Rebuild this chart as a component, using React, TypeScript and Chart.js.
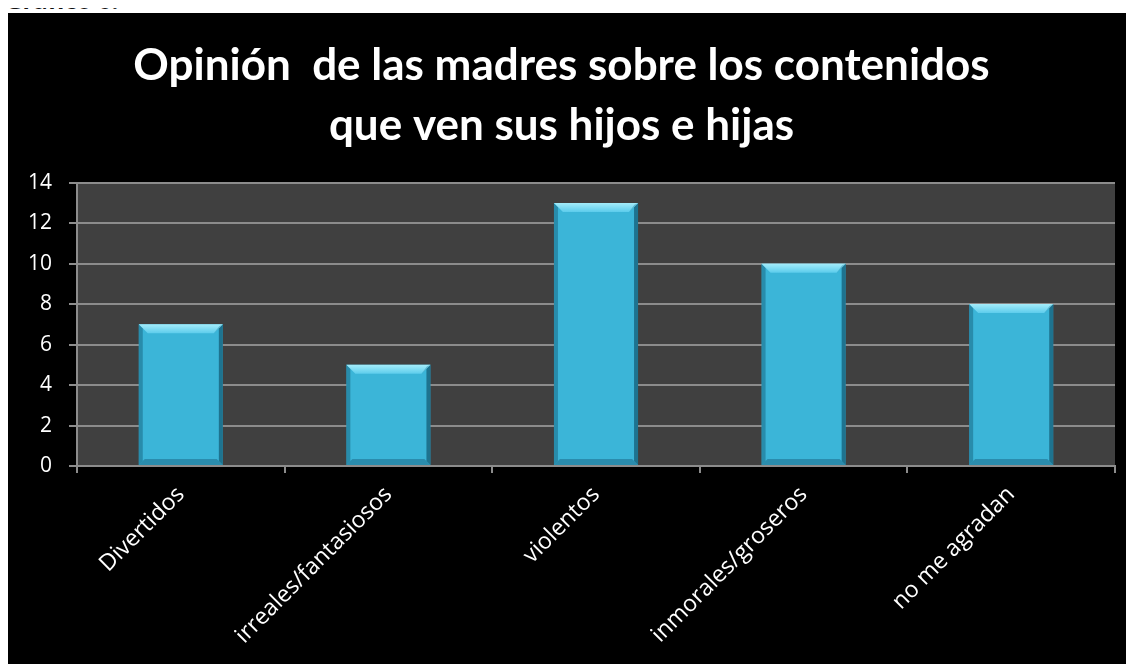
import React, { useEffect, useRef } from "react";
import { Chart, registerables } from "chart.js";

Chart.register(...registerables);

const categories = ["Divertidos", "irreales/fantasiosos", "violentos", "inmorales/groseros", "no me agradan"];
const values = [7, 5, 13, 10, 8];
const titleLines = ["Opinión  de las madres sobre los contenidos", "que ven sus hijos e hijas"];
const yMax = 14;
const yStep = 2;

const TITLE_FONT = "Lato, 'Open Sans', sans-serif";
const TICK_FONT = "'Open Sans', Lato, sans-serif";

const plotBg = {
  id: "plotBg",
  beforeDraw(chart: any) {
    const { ctx, chartArea } = chart;
    ctx.save();
    ctx.fillStyle = "#404040";
    ctx.fillRect(chartArea.left, chartArea.top, chartArea.right - chartArea.left, chartArea.bottom - chartArea.top);
    ctx.restore();
  },
};

const bevel = {
  id: "bevel",
  afterDatasetsDraw(chart: any) {
    const { ctx } = chart;
    const meta = chart.getDatasetMeta(0);
    ctx.save();
    meta.data.forEach((bar: any) => {
      const w = bar.width;
      const l = bar.x - w / 2;
      const r = bar.x + w / 2;
      const t = bar.y;
      const b = bar.base;
      const d = 9;
      ctx.fillStyle = "rgba(25,105,135,0.55)";
      ctx.beginPath();
      ctx.moveTo(l, t);
      ctx.lineTo(l + 4, t + 4);
      ctx.lineTo(l + 4, b - 4);
      ctx.lineTo(l, b);
      ctx.closePath();
      ctx.fill();
      ctx.fillStyle = "rgba(15,80,105,0.65)";
      ctx.beginPath();
      ctx.moveTo(r, t);
      ctx.lineTo(r, b);
      ctx.lineTo(r - 4, b - 4);
      ctx.lineTo(r - 4, t + 4);
      ctx.closePath();
      ctx.fill();
      ctx.fillStyle = "rgba(25,100,130,0.5)";
      ctx.beginPath();
      ctx.moveTo(l, b);
      ctx.lineTo(r, b);
      ctx.lineTo(r - 6, b - 6);
      ctx.lineTo(l + 6, b - 6);
      ctx.closePath();
      ctx.fill();
      const gTop = ctx.createLinearGradient(0, t, 0, t + d);
      gTop.addColorStop(0, "#a4ecfa");
      gTop.addColorStop(1, "#5cccec");
      ctx.fillStyle = gTop;
      ctx.beginPath();
      ctx.moveTo(l, t);
      ctx.lineTo(r, t);
      ctx.lineTo(r - d, t + d);
      ctx.lineTo(l + d, t + d);
      ctx.closePath();
      ctx.fill();
      ctx.fillStyle = "rgba(40,130,160,0.45)";
      ctx.beginPath();
      ctx.moveTo(r, t);
      ctx.lineTo(r - d, t + d);
      ctx.lineTo(r - d * 0.4, t + d * 0.2);
      ctx.closePath();
      ctx.fill();
    });
    ctx.restore();
  },
};

export default function App() {
  const ref = useRef<HTMLCanvasElement>(null);
  useEffect(() => {
    if (!ref.current) return;
    const chart = new Chart(ref.current, {
      type: "bar",
      data: {
        labels: categories,
        datasets: [
          {
            data: values,
            borderWidth: 0,
            backgroundColor: (c: any) => {
              const el = c.element;
              const ctx = c.chart.ctx;
              if (!el || el.width == null || isNaN(el.x)) return "#3bb5d8";
              const l = el.x - el.width / 2;
              const g = ctx.createLinearGradient(l, 0, l + el.width, 0);
              g.addColorStop(0, "#34a9cc");
              g.addColorStop(0.5, "#3cb9dc");
              g.addColorStop(1, "#309fc2");
              return g;
            },
            categoryPercentage: 1,
            barPercentage: 0.405,
          },
        ],
      },
      options: {
        responsive: false,
        animation: false,
        layout: { padding: { left: 0, right: 19, top: 0, bottom: 0 } },
        plugins: {
          legend: { display: false },
          tooltip: { enabled: false },
          title: {
            display: true,
            text: titleLines,
            color: "#ffffff",
            font: { family: TITLE_FONT, size: 44, weight: "bold", lineHeight: 1.36 },
            padding: { top: 23, bottom: 27 },
          },
        },
        scales: {
          x: {
            grid: {
              offset: true,
              drawOnChartArea: false,
              drawTicks: true,
              tickLength: 7,
              color: "#8c8c8c",
              lineWidth: 2,
            },
            border: { display: true, color: "#8c8c8c", width: 2 },
            ticks: {
              color: "#ffffff",
              font: { family: TICK_FONT, size: 23 },
              maxRotation: 45,
              minRotation: 45,
              autoSkip: false,
              padding: 8,
            },
            afterFit: (s: any) => {
              s.height = 198;
            },
          },
          y: {
            min: 0,
            max: yMax,
            ticks: {
              stepSize: yStep,
              color: "#ffffff",
              font: { family: TICK_FONT, size: 21 },
              padding: 17,
            },
            grid: {
              color: "#8c8c8c",
              lineWidth: 2,
              tickLength: 8,
            },
            border: { display: true, color: "#8c8c8c", width: 2 },
            afterFit: (s: any) => {
              s.width = 69;
            },
          },
        },
      },
      plugins: [plotBg, bevel],
    });
    return () => chart.destroy();
  }, []);

  return (
    <div style={{ position: "relative", width: 1126, height: 656, overflow: "visible" }}>
      <div
        style={{
          position: "absolute",
          left: -3,
          top: -23,
          fontFamily: TICK_FONT,
          fontWeight: "bold",
          fontSize: 24,
          color: "#111",
          lineHeight: "30px",
          whiteSpace: "nowrap",
        }}
      >
        Gráfico 6:
      </div>
      <div style={{ position: "absolute", left: 0, top: 5, width: 1126, height: 651, background: "#000" }}>
        <canvas ref={ref} width={1126} height={651} />
      </div>
    </div>
  );
}
